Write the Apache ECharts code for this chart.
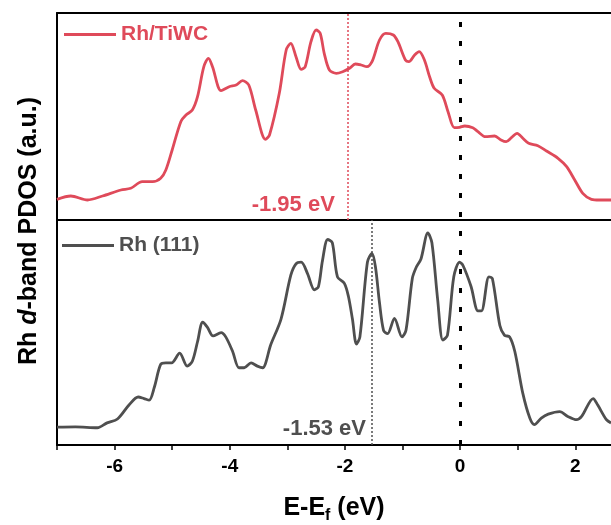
<!DOCTYPE html>
<html>
<head>
<meta charset="utf-8">
<script src="https://cdn.jsdelivr.net/npm/echarts@6/dist/echarts.min.js"></script>
<style>
  html, body { margin: 0; padding: 0; background: #fff; }
  #chart { width: 611px; height: 525px; }
</style>
</head>
<body>
<div id="chart"></div>
<script>
// Energy axis (eV, relative to the Fermi level)
const xMin = -7;
const xMax = 2.62;
const xTickLabels = [-6, -4, -2, 0, 2];

// Rh/TiWC d-band projected DOS
const eTiWC = [-7.0, -6.76, -6.47, -6.21, -5.89, -5.72, -5.52, -5.34, -5.20, -5.11, -5.00, -4.85, -4.76, -4.65, -4.56, -4.45, -4.37, -4.30, -4.15, -4.01, -3.89, -3.78, -3.67, -3.55, -3.38, -3.31, -3.14, -3.02, -2.94, -2.85, -2.76, -2.69, -2.59, -2.50, -2.43, -2.36, -2.27, -2.15, -2.04, -1.92, -1.82, -1.72, -1.62, -1.53, -1.40, -1.29, -1.16, -1.08, -0.95, -0.89, -0.79, -0.71, -0.62, -0.53, -0.45, -0.31, -0.21, -0.10, -0.01, 0.08, 0.22, 0.31, 0.44, 0.60, 0.71, 0.80, 0.89, 0.99, 1.09, 1.19, 1.35, 1.50, 1.70, 1.85, 1.99, 2.13, 2.28, 2.42, 2.62];
const pTiWC = [20.7, 24, 20, 24, 30, 31.7, 38.3, 38.3, 41.7, 50, 70, 98.3, 105, 110, 123.3, 153.3, 161.7, 153.3, 129.3, 133.3, 135, 139.3, 135, 110, 80.7, 85, 126.7, 170, 176.7, 163.3, 150.7, 153.3, 178.3, 190, 186.7, 166.7, 150, 146.7, 148.3, 151.7, 156, 155, 153.3, 158.3, 180, 186.7, 185, 178.3, 160, 158.3, 165, 168.3, 160, 143.3, 131.7, 125, 108.3, 92.3, 92.7, 94, 92.3, 88.3, 83.3, 84, 80, 78.3, 82.3, 86.7, 81.7, 76.7, 74.3, 69, 61.7, 53.3, 40, 26.7, 20.7, 20, 20];

// Rh(111) d-band projected DOS
const eRh111 = [-7.0, -6.68, -6.30, -6.13, -5.95, -5.75, -5.59, -5.49, -5.40, -5.31, -5.20, -5.11, -5.01, -4.87, -4.74, -4.65, -4.56, -4.47, -4.39, -4.29, -4.15, -4.07, -3.95, -3.84, -3.75, -3.63, -3.52, -3.43, -3.29, -3.11, -2.94, -2.85, -2.76, -2.65, -2.53, -2.46, -2.39, -2.30, -2.22, -2.13, -2.01, -1.94, -1.87, -1.80, -1.74, -1.61, -1.53, -1.47, -1.40, -1.33, -1.26, -1.14, -1.01, -0.94, -0.83, -0.76, -0.68, -0.56, -0.49, -0.39, -0.30, -0.22, -0.11, -0.01, 0.05, 0.19, 0.31, 0.37, 0.50, 0.56, 0.69, 0.77, 0.86, 0.95, 1.09, 1.21, 1.29, 1.41, 1.53, 1.73, 1.87, 2.02, 2.11, 2.31, 2.39, 2.54, 2.62];
const pRh111 = [18.3, 18.7, 17.7, 22.7, 26.7, 41, 49.3, 47.7, 46, 59.3, 82.7, 84.3, 84.3, 94.3, 81, 86, 106, 126, 121, 112, 115.3, 111, 96, 79.3, 79.3, 84.3, 81, 79.3, 102.7, 129.3, 174.3, 186, 187.7, 176, 159.3, 162.7, 189.3, 211, 207.7, 172.7, 166, 152.7, 129.3, 103.7, 111, 187.7, 196.7, 182.7, 146, 117.7, 114.3, 130, 111, 117.7, 171, 182.7, 191, 217.7, 207.7, 149.3, 107.7, 112.7, 172.7, 187.7, 184.3, 162.7, 137.7, 137.7, 172.7, 171, 122.7, 112.7, 111, 96, 52.7, 27.7, 21, 27.7, 31.7, 34.3, 29.3, 26, 29.3, 47.7, 41, 26, 22.7];

// d-band centres (eV)
const dCenterTiWC = -1.95;
const dCenterRh111 = -1.53;

const seriesNames = ['Rh/TiWC', 'Rh (111)'];

const RED = '#df4a5a';
const GREY = '#4f4f4f';
const FONT = "'Liberation Sans', Arial, sans-serif";

const pairs = (xs, ys) => xs.map((x, i) => [x, ys[i]]);

const chart = echarts.init(document.getElementById('chart'), null, { renderer: 'canvas' });

const hiddenAxisBits = {
  axisTick: { show: false },
  axisLabel: { show: false },
  splitLine: { show: false }
};

const frameLine = { show: true, onZero: false, lineStyle: { color: '#000', width: 2 } };

const option = {
  animation: false,
  backgroundColor: '#fff',
  textStyle: { fontFamily: FONT },
  grid: [
    { left: 57, right: 0, top: 13, height: 207 },
    { left: 57, right: 0, top: 220, height: 231 }
  ],
  xAxis: [
    // upper panel: bottom edge (separator)
    { type: 'value', gridIndex: 0, min: xMin, max: xMax, position: 'bottom',
      axisLine: frameLine, ...hiddenAxisBits },
    // upper panel: top frame
    { type: 'value', gridIndex: 0, min: xMin, max: xMax, position: 'top',
      axisLine: frameLine, ...hiddenAxisBits },
    // lower panel: energy axis
    { type: 'value', gridIndex: 1, min: xMin, max: xMax, interval: 1, position: 'bottom',
      axisLine: frameLine,
      axisTick: { show: true, inside: false, length: 5, lineStyle: { color: '#000', width: 1.5 } },
      axisLabel: {
        show: true, margin: 12, color: '#000', fontSize: 19, fontWeight: 'bold', fontFamily: FONT,
        showMaxLabel: false,
        formatter: v => (xTickLabels.indexOf(v) >= 0 ? String(v) : '')
      },
      splitLine: { show: false },
      name: 'E-E{sub|f} (eV)',
      nameLocation: 'middle',
      nameGap: 47,
      nameTextStyle: {
        color: '#000', fontSize: 25, fontWeight: 'bold', fontFamily: FONT, lineHeight: 32,
        rich: {
          sub: { fontSize: 16, fontWeight: 'bold', fontFamily: FONT, color: '#000', verticalAlign: 'bottom', lineHeight: 32 }
        }
      }
    }
  ],
  yAxis: [
    { type: 'value', gridIndex: 0, min: 0, max: 207, axisLine: frameLine, ...hiddenAxisBits },
    { type: 'value', gridIndex: 1, min: 0, max: 231, axisLine: frameLine, ...hiddenAxisBits }
  ],
  legend: [
    { data: [seriesNames[0]], left: 64, top: 24, padding: 0, icon: 'rect', itemWidth: 52, itemHeight: 3,
      textStyle: { color: RED, fontSize: 21, fontWeight: 'bold', fontFamily: FONT } },
    { data: [seriesNames[1]], left: 62, top: 235, padding: 0, icon: 'rect', itemWidth: 52, itemHeight: 3,
      textStyle: { color: GREY, fontSize: 21, fontWeight: 'bold', fontFamily: FONT } }
  ],
  graphic: [
    {
      type: 'text', x: 29, y: 231, rotation: Math.PI / 2,
      style: {
        text: '{a|Rh }{i|d}{a|-band PDOS (a.u.)}',
        align: 'center', verticalAlign: 'middle',
        rich: {
          a: { fontSize: 25, fontWeight: 'bold', fontFamily: FONT, fill: '#000' },
          i: { fontSize: 25, fontWeight: 'bold', fontStyle: 'italic', fontFamily: FONT, fill: '#000' }
        }
      }
    }
  ],
  series: [
    {
      name: seriesNames[0], type: 'line', xAxisIndex: 0, yAxisIndex: 0,
      data: pairs(eTiWC, pTiWC), showSymbol: false, symbol: 'none', smooth: 0.3,
      lineStyle: { color: RED, width: 2.8 }, itemStyle: { color: RED },
      markLine: {
        silent: true, symbol: 'none', label: { show: false }, animation: false,
        data: [
          { xAxis: dCenterTiWC, lineStyle: { color: RED, width: 1.5, type: [2, 2] } },
          [ { coord: [0, 198], lineStyle: { color: '#000', width: 3, type: [5, 14] } }, { coord: [0, 0] } ]
        ]
      },
      markPoint: {
        silent: true, symbol: 'circle', symbolSize: 0,
        data: [{ coord: [dCenterTiWC, 15], value: dCenterTiWC }],
        label: {
          show: true, position: 'left', distance: 13,
          formatter: p => p.value.toFixed(2) + ' eV',
          color: RED, fontSize: 22, fontWeight: 'bold', fontFamily: FONT
        }
      }
    },
    {
      name: seriesNames[1], type: 'line', xAxisIndex: 2, yAxisIndex: 1,
      data: pairs(eRh111, pRh111), showSymbol: false, symbol: 'none', smooth: 0.3,
      lineStyle: { color: GREY, width: 2.8 }, itemStyle: { color: GREY },
      markLine: {
        silent: true, symbol: 'none', label: { show: false }, animation: false,
        data: [
          { xAxis: dCenterRh111, lineStyle: { color: GREY, width: 1.5, type: [2, 2] } },
          [ { coord: [0, 0], lineStyle: { color: '#000', width: 3, type: [5, 14] } }, { coord: [0, 231] } ]
        ]
      },
      markPoint: {
        silent: true, symbol: 'circle', symbolSize: 0,
        data: [{ coord: [dCenterRh111, 17], value: dCenterRh111 }],
        label: {
          show: true, position: 'left', distance: 6,
          formatter: p => p.value.toFixed(2) + ' eV',
          color: GREY, fontSize: 22, fontWeight: 'bold', fontFamily: FONT
        }
      }
    }
  ]
};

chart.setOption(option);
</script>
</body>
</html>
